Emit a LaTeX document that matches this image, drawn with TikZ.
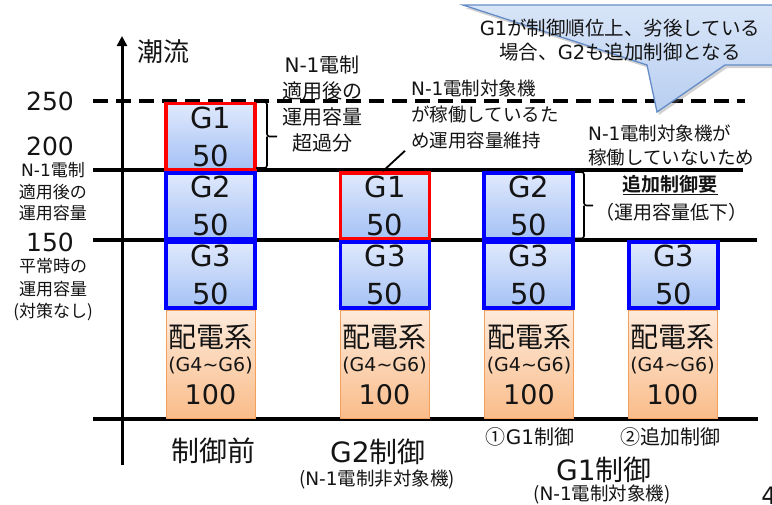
\documentclass[tikz,border=0pt]{standalone}
\usepackage{fontspec}
\setmainfont{Noto Sans CJK JP}[BoldFont={Noto Sans CJK JP Bold}]
\newfontfamily\latf{DejaVu Sans}
\newcommand{\LatTxt}[1]{{\latf #1}}
\usetikzlibrary{arrows.meta}
\definecolor{gtop}{RGB}{224,233,252}
\definecolor{gbot}{RGB}{164,193,245}
\definecolor{otop}{RGB}{253,234,218}
\definecolor{obot}{RGB}{250,188,138}
\definecolor{oedge}{RGB}{245,160,90}
\definecolor{ctop}{RGB}{216,229,248}
\definecolor{cbot}{RGB}{184,206,240}
\definecolor{cedge}{RGB}{100,140,200}
\definecolor{txt}{RGB}{20,20,20}
\begin{document}
\begin{tikzpicture}[x=1pt,y=-1pt,
  every node/.style={text=txt},
  hline/.style={line width=3.2pt, black},
  gbox/.style={line width=3.8pt, top color=gtop, bottom color=gbot, minimum width=89pt, minimum height=66pt, inner sep=0pt, align=center, font=\latf\fontsize{29}{38}\selectfont},
  obox/.style={draw=oedge, line width=0.8pt, top color=otop, bottom color=obot, minimum width=89pt, minimum height=108pt, inner sep=0pt},
  lab/.style={inner sep=0pt, align=center},
  brk/.style={line width=1.6pt, black, rounded corners=2.5pt},
  big/.style={font=\fontsize{28}{28}\selectfont},
  mid/.style={font=\latf\fontsize{19}{19}\selectfont},
  num/.style={font=\latf\fontsize{27}{27}\selectfont},
  axv/.style={font=\latf\fontsize{25}{25}\selectfont}
]
\useasboundingbox (0,0) rectangle (772,504);
\fill[white] (0,0) rectangle (772,504);

% horizontal lines
\draw[hline, dash pattern=on 15pt off 8pt] (93,101) -- (745,101);
\draw[hline] (93,170) -- (743,170);
\draw[hline] (93,240) -- (757,240);
\draw[hline] (93,419) -- (758,419);
% axis
\draw[line width=3pt, -{Triangle[length=10pt,width=10pt]}] (122,465) -- (122,36);
\node[lab, font=\fontsize{26}{26}\selectfont] (axlab) at (163,52) {潮流};

% axis values
\node[lab, axv] (v250) at (50,101) {250};
\node[lab, axv] (v200) at (50,146) {200};
\node[lab, axv] (v150) at (50,242) {150};
\node[lab, font=\fontsize{17}{21.5}\selectfont] (capn1) at (53,192) {\LatTxt{N-1}電制\\適用後の\\運用容量};
\node[lab, font=\fontsize{17}{22.5}\selectfont] (capnorm) at (53,290) {平常時の\\運用容量\\(対策なし)};

% column 1
\node[gbox, draw=red]  (c1g1) at (210.5,136.5) {G1\\50};
\node[gbox, draw=blue] (c1g2) at (210.5,206) {G2\\50};
\node[gbox, draw=blue] (c1g3) at (210.5,275) {G3\\50};
\node[obox] (c1o) at (210.5,364.5) {};
% column 2
\node[gbox, draw=red]  (c2g1) at (385,206) {G1\\50};
\node[gbox, draw=blue] (c2g3) at (385,275) {G3\\50};
\node[obox] (c2o) at (384.5,364.5) {};
% column 3
\node[gbox, draw=blue] (c3g2) at (528.5,206) {G2\\50};
\node[gbox, draw=blue] (c3g3) at (528.5,275) {G3\\50};
\node[obox] (c3o) at (529,364.5) {};
% column 4
\node[gbox, draw=blue] (c4g3) at (673.5,275) {G3\\50};
\node[obox] (c4o) at (672.5,364.5) {};

% texts in orange boxes
\foreach \c in {c1o,c2o,c3o,c4o}{
  \node[lab, big] (\c a) at ([yshift=-27pt]\c.north) {配電系};
  \node[lab, mid] (\c b) at ([yshift=-55pt]\c.north) {(G4\textasciitilde G6)};
  \node[lab, num] (\c c) at ([yshift=-85pt]\c.north) {100};
}

% brackets
\draw[brk] (256,102) -| (267,136.5) -- (277,136.5);
\draw[brk] (256,168) -| (267,136.5);
\draw[brk] (575,172) -| (584,205.5) -- (593,205.5);
\draw[brk] (575,238.5) -| (584,205.5);

% annotations
\node[lab, font=\fontsize{20}{25.7}\selectfont] (exc) at (322,104) {\LatTxt{N-1}電制\\適用後の\\運用容量\\超過分};
\node[lab, align=left, anchor=west, font=\fontsize{18.5}{26}\selectfont] (keep) at (411,114) {\LatTxt{N-1}電制対象機\\が稼働しているた\\め運用容量維持};
\draw[line width=1.8pt] ([xshift=-6pt,yshift=-2pt]keep.south west) -- ([xshift=-2pt]c2g1.north);
\node[lab, align=left, anchor=west, font=\fontsize{18.5}{24}\selectfont] (notop) at (588,145) {\LatTxt{N-1}電制対象機が\\稼働していないため};
\node[lab, font=\fontsize{19}{19}\selectfont\bfseries] (need) at (670,185) {\underline{追加制御要}};
\node[lab, font=\fontsize{19}{19}\selectfont] (low) at (671,212) {（運用容量低下）};

% callout
\fill[gray, opacity=0.35] (465,8) -- (778,8) -- (778,68) -- (727,68) -- (659,115) -- (649,68) -- cycle;
\draw[cedge, line width=1.3pt, top color=ctop, bottom color=cbot] (463,5) -- (778,5) -- (778,65) -- (725,65) -- (657,112) -- (647,65) -- cycle;
\node[lab, font=\fontsize{19.5}{24}\selectfont] (ctext) at (620,40) {\LatTxt{G1}が制御順位上、劣後している\\場合、\LatTxt{G2}も追加制御となる};

% bottom labels
\node[lab, big] (l1) at (213,451) {制御前};
\node[lab, big] (l2) at (378,452) {\LatTxt{G2}制御};
\node[lab, font=\fontsize{18.5}{18.5}\selectfont] (l2s) at (377,479) {(\LatTxt{N-1}電制非対象機)};
\node[lab, font=\fontsize{20}{20}\selectfont] (l3) at (530,437) {①\LatTxt{G1}制御};
\node[lab, font=\fontsize{20}{20}\selectfont] (l4) at (670,437) {②追加制御};
\node[lab, big] (l5) at (604,470) {\LatTxt{G1}制御};
\node[lab, font=\fontsize{18.5}{18.5}\selectfont] (l5s) at (602,494) {(\LatTxt{N-1}電制対象機)};
\node[lab, font=\latf\fontsize{24}{24}\selectfont] (pg) at (769,496) {4};
\end{tikzpicture}
\end{document}
